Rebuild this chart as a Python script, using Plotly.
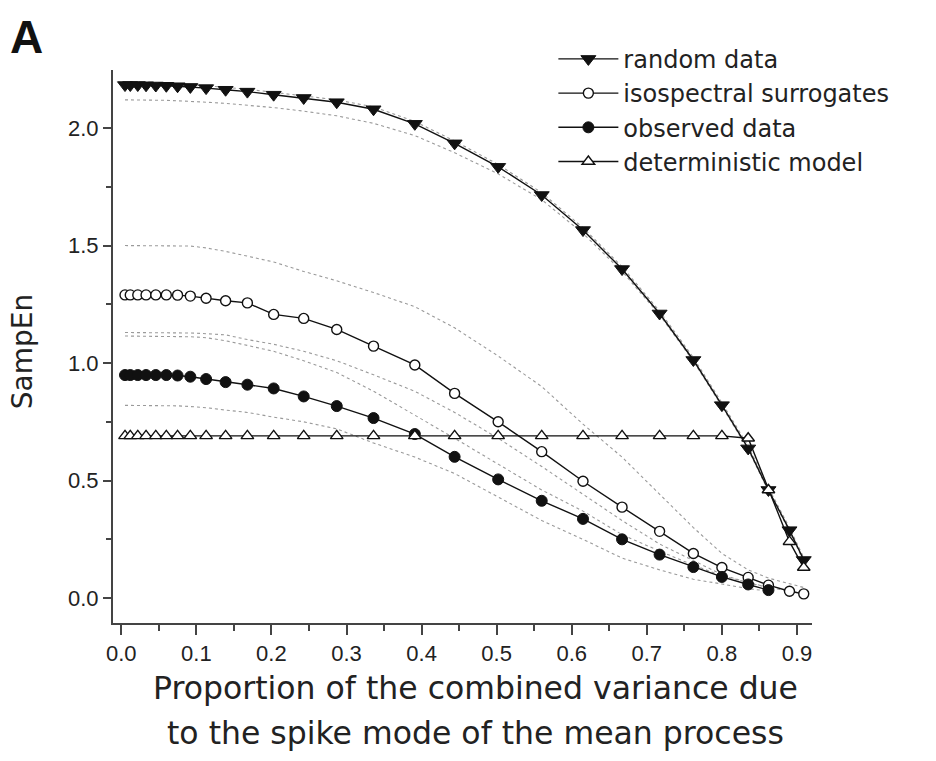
import plotly.graph_objects as go

# Proportion of the combined variance due to the spike mode (shared x grid)
x_prop = [0.005, 0.012, 0.022, 0.033, 0.046, 0.060, 0.075, 0.092, 0.113, 0.139,
          0.168, 0.203, 0.243, 0.287, 0.336, 0.391, 0.444, 0.502, 0.560, 0.615,
          0.667, 0.717, 0.762, 0.800, 0.835, 0.862, 0.890, 0.909]

random_data = [2.183, 2.183, 2.183, 2.182, 2.181, 2.180, 2.178, 2.175, 2.170, 2.163,
               2.155, 2.142, 2.128, 2.110, 2.080, 2.018, 1.935, 1.835, 1.715, 1.566,
               1.400, 1.211, 1.013, 0.821, 0.637, 0.460, 0.289, 0.162]

surrogates = [1.290, 1.290, 1.290, 1.290, 1.290, 1.290, 1.289, 1.285, 1.276, 1.265,
              1.256, 1.207, 1.190, 1.143, 1.072, 0.992, 0.871, 0.750, 0.623, 0.497,
              0.387, 0.284, 0.190, 0.130, 0.088, 0.055, 0.029, 0.018]

observed = [0.949, 0.949, 0.949, 0.949, 0.949, 0.949, 0.947, 0.942, 0.932, 0.919,
            0.908, 0.892, 0.858, 0.817, 0.766, 0.698, 0.601, 0.505, 0.414, 0.337,
            0.250, 0.185, 0.132, 0.090, 0.058, 0.034]

deterministic = [0.690, 0.690, 0.690, 0.690, 0.690, 0.690, 0.690, 0.690, 0.690, 0.690,
                 0.690, 0.690, 0.690, 0.690, 0.690, 0.690, 0.690, 0.690, 0.690, 0.690,
                 0.690, 0.690, 0.690, 0.690, 0.680, 0.460, 0.240, 0.130]

# dotted bands
random_upper = [2.193, 2.193, 2.193, 2.192, 2.191, 2.190, 2.188, 2.185, 2.180, 2.173,
                2.165, 2.152, 2.138, 2.120, 2.090, 2.028, 1.945, 1.845, 1.725, 1.576,
                1.410, 1.221, 1.023, 0.831, 0.647, 0.470, 0.299, 0.172]
random_lower = [2.120, 2.120, 2.120, 2.120, 2.120, 2.118, 2.116, 2.114, 2.110, 2.105,
                2.097, 2.087, 2.072, 2.052, 2.020, 1.968, 1.895, 1.805, 1.695, 1.552,
                1.390, 1.205, 1.008, 0.816, 0.632, 0.455, 0.284, 0.157]
surr_upper = [1.500, 1.500, 1.500, 1.500, 1.500, 1.500, 1.500, 1.498, 1.490, 1.475,
              1.455, 1.430, 1.390, 1.350, 1.300, 1.240, 1.150, 1.030, 0.900, 0.740,
              0.600, 0.440, 0.300, 0.190, 0.120, 0.085, 0.060, 0.045]
surr_lower = [1.130, 1.130, 1.130, 1.130, 1.130, 1.130, 1.130, 1.128, 1.125, 1.120,
              1.100, 1.080, 1.050, 1.010, 0.950, 0.880, 0.790, 0.680, 0.560, 0.440,
              0.330, 0.230, 0.160, 0.100, 0.065, 0.045, 0.030, 0.020]
obs_upper = [1.115, 1.115, 1.115, 1.115, 1.115, 1.115, 1.114, 1.112, 1.108, 1.095,
             1.075, 1.050, 1.010, 0.960, 0.880, 0.780, 0.680, 0.570, 0.460, 0.370,
             0.270, 0.200, 0.140, 0.095, 0.065, 0.045]
obs_lower = [0.820, 0.820, 0.820, 0.820, 0.820, 0.820, 0.818, 0.815, 0.810, 0.800,
             0.790, 0.770, 0.750, 0.720, 0.660, 0.600, 0.530, 0.430, 0.330, 0.250,
             0.170, 0.120, 0.080, 0.060, 0.040, 0.030]

x_ticks = [0.0, 0.1, 0.2, 0.3, 0.4, 0.5, 0.6, 0.7, 0.8, 0.9]
x_tick_labels = ["0.0", "0.1", "0.2", "0.3", "0.4", "0.5", "0.6", "0.7", "0.8", "0.9"]
y_ticks = [0.0, 0.5, 1.0, 1.5, 2.0]
y_tick_labels = ["0.0", "0.5", "1.0", "1.5", "2.0"]

fig = go.Figure()

band_style = dict(color="#9a9a9a", width=1.1, dash="dot")
for band in [random_upper, random_lower, surr_upper, surr_lower, obs_upper, obs_lower]:
    fig.add_trace(go.Scatter(x=x_prop[:len(band)], y=band, mode="lines",
                             line=band_style, showlegend=False, hoverinfo="skip"))

line_style = dict(color="#111111", width=1.4)
fig.add_trace(go.Scatter(
    x=x_prop, y=random_data, mode="lines+markers", name="random data",
    line=line_style,
    marker=dict(symbol="triangle-down", size=13, color="#111111",
                line=dict(color="#111111", width=1))))
fig.add_trace(go.Scatter(
    x=x_prop, y=surrogates, mode="lines+markers", name="isospectral surrogates",
    line=line_style,
    marker=dict(symbol="circle", size=10, color="white",
                line=dict(color="#111111", width=1.4))))
fig.add_trace(go.Scatter(
    x=x_prop[:len(observed)], y=observed, mode="lines+markers", name="observed data",
    line=line_style,
    marker=dict(symbol="circle", size=11, color="#111111",
                line=dict(color="#111111", width=1))))
fig.add_trace(go.Scatter(
    x=x_prop, y=deterministic, mode="lines+markers", name="deterministic model",
    line=line_style,
    marker=dict(symbol="triangle-up", size=11, color="white",
                line=dict(color="#111111", width=1.4))))

axis_common = dict(
    showline=True, linecolor="#444444", linewidth=2, mirror=False,
    ticks="outside", tickwidth=2, tickcolor="#444444",
    showgrid=False, zeroline=False,
    tickfont=dict(family="Liberation Sans", size=22, color="#222222"),
)

fig.update_xaxes(range=[-0.011, 0.92], tickvals=x_ticks, ticktext=x_tick_labels,
                 ticklen=10,
                 minor=dict(dtick=0.05, tick0=0, ticks="outside", ticklen=6,
                            tickwidth=1.5, tickcolor="#444444"),
                 **axis_common)
fig.update_yaxes(range=[-0.106, 2.247], tickvals=y_ticks, ticktext=y_tick_labels,
                 ticklen=8,
                 minor=dict(dtick=0.25, tick0=0, ticks="outside", ticklen=5,
                            tickwidth=1.5, tickcolor="#444444"),
                 **axis_common)

title_font = dict(family="DejaVu Sans", size=31.5, color="#222222")
fig.add_annotation(text="Proportion of the combined variance due", xref="paper",
                   yref="paper", x=0.518, y=-0.06, xanchor="center", yanchor="top",
                   yshift=-12, showarrow=False, font=title_font)
fig.add_annotation(text="to the spike mode of the mean process", xref="paper",
                   yref="paper", x=0.518, y=-0.06, xanchor="center", yanchor="top",
                   yshift=-57, showarrow=False, font=title_font)
fig.add_annotation(text="SampEn", xref="paper", yref="paper", x=-0.13, y=0.49,
                   xanchor="center", yanchor="middle", textangle=-90,
                   showarrow=False, font=dict(family="DejaVu Sans", size=28,
                                              color="#222222"))
fig.add_annotation(text="<b>A</b>", xref="paper", yref="paper", x=-0.15, y=1.11,
                   xanchor="left", yanchor="top", showarrow=False,
                   font=dict(family="Liberation Sans, Arial", size=46, color="#111111"))

fig.update_layout(
    width=936, height=761,
    margin=dict(l=113, r=124, t=70, b=138),
    paper_bgcolor="white", plot_bgcolor="white",
    showlegend=True,
    legend=dict(x=0.63, y=1.06, xanchor="left", yanchor="top",
                bgcolor="rgba(0,0,0,0)", itemwidth=60,
                font=dict(family="DejaVu Sans", size=24, color="#222222"),
                tracegroupgap=0),
)

fig.write_html("out.html")
